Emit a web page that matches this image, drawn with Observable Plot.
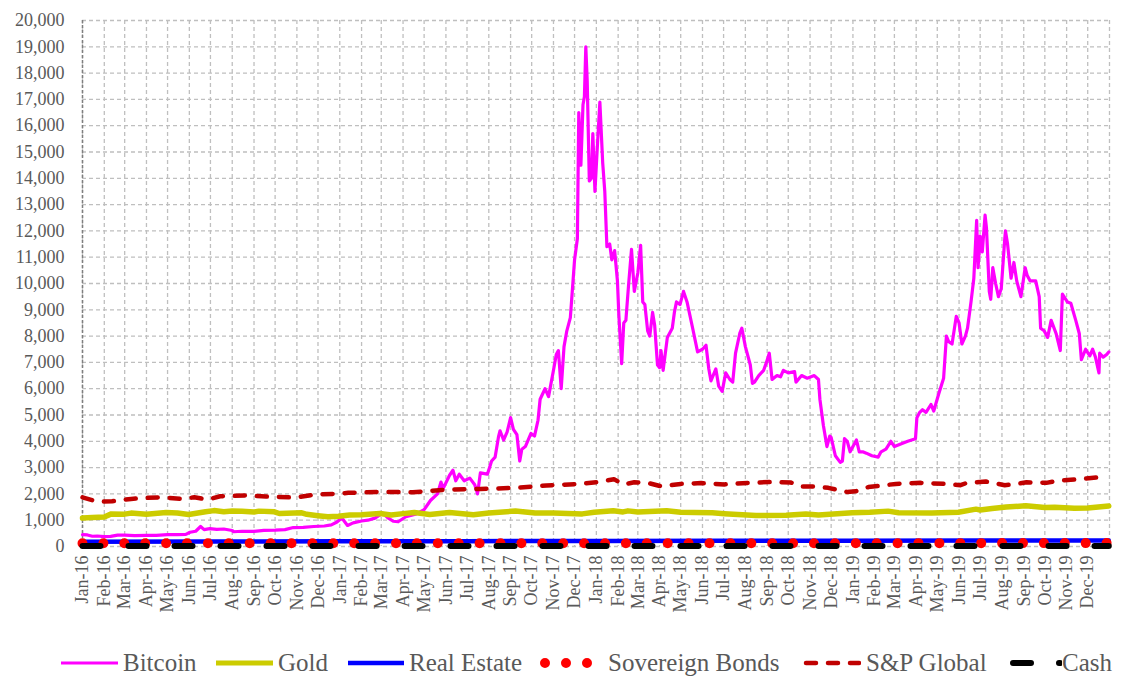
<!DOCTYPE html>
<html>
<head>
<meta charset="utf-8">
<script src="https://cdn.jsdelivr.net/npm/d3@7"></script>
<script src="https://cdn.jsdelivr.net/npm/@observablehq/plot@0.6"></script>
<style>
  html, body { margin: 0; padding: 0; background: #fff; }
  #wrap { width: 1129px; height: 678px; position: relative; overflow: hidden; }
  #legend { position: absolute; left: 0; top: 648px; width: 1129px; height: 30px;
    font-family: "Liberation Serif", "Times New Roman", "Liberation Sans", Arial, sans-serif; font-size: 25px; color: #595959; }
  .item { position: absolute; top: 0; height: 30px; display: flex; align-items: center; white-space: nowrap; }
</style>
</head>
<body>
<div id="wrap">
  <div id="chart"></div>
  <div id="legend"></div>
</div>
<script>
// ---------------- data ----------------
const seriesNames = ["Bitcoin", "Gold", "Real Estate", "Sovereign Bonds", "S&P Global", "Cash"];

const btcDates = [
 "2016-01-01","2016-01-08","2016-01-15","2016-01-22","2016-02-01","2016-02-10","2016-02-20","2016-03-01","2016-03-15","2016-04-01",
 "2016-04-15","2016-05-01","2016-05-15","2016-05-27","2016-06-02","2016-06-10","2016-06-17","2016-06-22","2016-06-30","2016-07-10",
 "2016-07-20","2016-08-01","2016-08-03","2016-08-15","2016-09-01","2016-09-15","2016-10-01","2016-10-15","2016-10-27","2016-11-10",
 "2016-11-25","2016-12-10","2016-12-20","2016-12-28",
 "2017-01-04","2017-01-12","2017-01-20","2017-02-01","2017-02-10","2017-02-20","2017-03-03","2017-03-10","2017-03-18","2017-03-25",
 "2017-04-05","2017-04-20","2017-05-01","2017-05-10","2017-05-20","2017-05-25","2017-05-28","2017-06-06","2017-06-11","2017-06-15",
 "2017-06-20","2017-06-27","2017-07-05","2017-07-12","2017-07-16","2017-07-20","2017-07-30","2017-08-05","2017-08-10","2017-08-15",
 "2017-08-17","2017-08-22","2017-08-27","2017-09-01","2017-09-05","2017-09-10","2017-09-14","2017-09-17","2017-09-22","2017-09-30",
 "2017-10-05","2017-10-10","2017-10-13","2017-10-20","2017-10-25","2017-11-01","2017-11-05","2017-11-08","2017-11-12","2017-11-16",
 "2017-11-20","2017-11-25","2017-11-28","2017-12-01","2017-12-05","2017-12-07","2017-12-10","2017-12-13","2017-12-15","2017-12-17",
 "2017-12-19","2017-12-22","2017-12-25","2017-12-27","2017-12-30",
 "2018-01-02","2018-01-06","2018-01-10","2018-01-13","2018-01-16","2018-01-20","2018-01-23","2018-01-27","2018-01-31","2018-02-02",
 "2018-02-06","2018-02-09","2018-02-12","2018-02-16","2018-02-20","2018-02-24","2018-03-01","2018-03-05","2018-03-08","2018-03-11",
 "2018-03-15","2018-03-18","2018-03-22","2018-03-25","2018-03-29","2018-04-01","2018-04-03","2018-04-06","2018-04-12","2018-04-19",
 "2018-04-22","2018-04-25","2018-04-30","2018-05-05","2018-05-10","2018-05-18","2018-05-25","2018-06-01","2018-06-06","2018-06-10",
 "2018-06-13","2018-06-20","2018-06-24","2018-06-29","2018-07-04","2018-07-10","2018-07-14","2018-07-18","2018-07-24","2018-07-27",
 "2018-08-01","2018-08-08","2018-08-11","2018-08-14","2018-08-20","2018-08-27","2018-08-31","2018-09-04","2018-09-08","2018-09-15",
 "2018-09-20","2018-09-24","2018-10-01","2018-10-10","2018-10-12","2018-10-20","2018-10-28","2018-11-07","2018-11-13","2018-11-15",
 "2018-11-20","2018-11-25","2018-11-29","2018-12-01","2018-12-07","2018-12-14","2018-12-17","2018-12-20","2018-12-24","2018-12-28",
 "2019-01-06","2019-01-10","2019-01-15","2019-01-20","2019-01-28","2019-02-06","2019-02-10","2019-02-17","2019-02-24","2019-03-01",
 "2019-03-10","2019-03-20","2019-03-31","2019-04-02","2019-04-06","2019-04-10","2019-04-15","2019-04-22","2019-04-26","2019-05-03",
 "2019-05-10","2019-05-14","2019-05-17","2019-05-22","2019-05-28","2019-06-01","2019-06-05","2019-06-10","2019-06-13","2019-06-18",
 "2019-06-22","2019-06-26","2019-06-28","2019-07-01","2019-07-04","2019-07-08","2019-07-10","2019-07-14","2019-07-16","2019-07-19",
 "2019-07-23","2019-07-27","2019-07-31","2019-08-05","2019-08-06","2019-08-09","2019-08-14","2019-08-18","2019-08-22","2019-08-28",
 "2019-09-03","2019-09-06","2019-09-10","2019-09-18","2019-09-23","2019-09-25","2019-09-30","2019-10-05","2019-10-10","2019-10-17",
 "2019-10-23","2019-10-26","2019-11-02","2019-11-07","2019-11-14","2019-11-19","2019-11-22","2019-11-28","2019-12-04","2019-12-08",
 "2019-12-12","2019-12-17","2019-12-18","2019-12-23","2019-12-28","2019-12-31"
];
const btcValues = [
 450,440,390,400,375,385,430,430,415,420,
 425,450,455,460,540,580,760,640,680,650,
 665,610,560,580,575,610,620,640,720,730,
 760,780,820,930,
 1080,800,900,970,1000,1080,1270,1100,960,940,
 1130,1240,1400,1750,2000,2450,2200,2700,2900,2500,
 2750,2500,2600,2350,2000,2800,2750,3250,3400,4200,
 4400,4050,4350,4900,4450,4250,3250,3700,3800,4300,
 4200,4800,5600,6000,5700,6700,7300,7450,6000,7600,
 8200,8700,9800,10900,11700,16500,14500,16800,17100,19000,
 17700,13900,14000,15700,13500,
 15000,16900,14600,13500,11400,11500,10900,11250,10100,8800,
 6950,8500,8600,10000,11300,9700,10400,11450,9300,9200,
 8200,8000,8900,8400,6900,6800,7450,6700,7950,8300,
 8900,9300,9200,9700,9300,8300,7400,7500,7650,6750,
 6300,6750,6100,5900,6600,6350,6250,7350,8100,8300,
 7600,6900,6200,6250,6500,6700,7000,7350,6350,6500,
 6450,6700,6600,6650,6250,6500,6400,6500,6350,5600,
 4600,3800,4200,4150,3450,3200,3250,4100,4000,3600,
 4050,3600,3600,3550,3450,3400,3600,3700,4000,3800,
 3900,4000,4100,4900,5100,5200,5100,5400,5150,5800,
 6400,8000,7800,7700,8750,8500,7700,8000,8300,9300,
 10200,12400,10600,11800,11200,12600,12100,9700,9400,10600,
 10000,9500,9800,11700,12000,11500,10200,10800,10100,9500,
 10600,10300,10100,10100,9500,8300,8200,7950,8600,8100,
 7450,9600,9300,9250,8600,8100,7100,7500,7250,7500,
 7200,6600,7350,7200,7300,7400
];

const goldDates = [
 "2016-01-01","2016-01-15","2016-02-01","2016-02-11","2016-03-01","2016-03-10","2016-04-01","2016-04-29","2016-05-15","2016-05-31",
 "2016-06-24","2016-07-06","2016-07-20","2016-08-01","2016-08-15","2016-09-01","2016-09-08","2016-09-30","2016-10-07","2016-11-08",
 "2016-11-15","2016-12-01","2016-12-15","2016-12-30",
 "2017-01-15","2017-02-01","2017-02-27","2017-03-15","2017-04-01","2017-04-17","2017-05-09","2017-06-06","2017-07-10","2017-08-01",
 "2017-09-08","2017-10-06","2017-11-01","2017-12-12","2017-12-29",
 "2018-01-25","2018-02-08","2018-02-15","2018-03-01","2018-04-11","2018-05-01","2018-05-21","2018-06-15","2018-07-02","2018-08-16",
 "2018-09-28","2018-10-26","2018-11-13","2018-12-31",
 "2019-01-25","2019-02-20","2019-03-07","2019-04-23","2019-05-31","2019-06-25","2019-07-01","2019-07-18","2019-08-07","2019-09-04",
 "2019-10-01","2019-10-15","2019-11-12","2019-12-01","2019-12-31"
];
const goldValues = [
 1080,1100,1125,1240,1230,1270,1225,1290,1275,1215,
 1320,1365,1320,1350,1340,1310,1345,1320,1255,1280,
 1225,1170,1130,1150,
 1200,1210,1255,1200,1250,1290,1220,1295,1210,1270,
 1350,1270,1275,1240,1300,
 1360,1315,1355,1315,1360,1305,1290,1280,1245,1175,
 1190,1235,1200,1280,
 1300,1345,1285,1270,1305,1420,1390,1445,1500,1550,
 1480,1490,1450,1465,1540
];

const reDates = ["2016-01-01","2016-07-01","2017-01-01","2017-07-01","2018-01-01","2018-07-01","2019-01-01","2019-07-01","2019-12-31"];
const reValues = [185, 192, 198, 204, 210, 218, 220, 225, 228];

const bondDates = ["2016-01-01","2017-01-01","2018-01-01","2019-01-01","2019-12-31"];
const bondValues = [125, 122, 124, 126, 130];

const spDates = [
 "2016-01-01","2016-01-15","2016-01-25","2016-02-12","2016-03-10","2016-04-01","2016-04-25","2016-05-20","2016-06-08","2016-06-27",
 "2016-07-15","2016-08-20","2016-09-18","2016-10-30","2016-11-26","2016-12-31",
 "2017-01-13","2017-03-01","2017-04-15","2017-06-01","2017-07-20","2017-09-10","2017-10-22","2017-12-08",
 "2018-01-02","2018-01-26","2018-02-08","2018-02-24","2018-03-15","2018-04-03","2018-05-01","2018-05-30","2018-07-02","2018-08-05",
 "2018-09-06","2018-10-05","2018-10-20","2018-11-04","2018-11-27","2018-12-24",
 "2019-01-05","2019-01-23","2019-03-03","2019-04-07","2019-05-14","2019-06-03","2019-06-11","2019-07-09","2019-08-05","2019-08-17",
 "2019-09-05","2019-10-03","2019-10-23","2019-11-20","2019-12-27"
];
const spValues = [
 1870,1760,1700,1720,1810,1850,1870,1810,1870,1780,
 1910,1940,1900,1860,1970,2010,
 2040,2080,2060,2160,2190,2230,2320,2380,
 2450,2560,2360,2440,2420,2290,2380,2410,2360,2420,
 2450,2430,2280,2280,2230,2070,
 2100,2260,2380,2420,2380,2330,2410,2470,2330,2360,
 2440,2420,2510,2560,2660
];

const cashDates = ["2016-01-01","2019-12-31"];
const cashValues = [20, 20];

const yTicks = d3.range(0, 20001, 1000);
const monthTickLabels = d3.utcMonths(new Date("2016-01-01"), new Date("2020-01-01"));
const gridDates = d3.utcMonths(new Date("2016-01-01"), new Date("2020-01-02"));

// ---------------- build ----------------
const toRows = (dates, values) => dates.map((d, i) => ({date: new Date(d), value: values[i]}));
const btc = toRows(btcDates, btcValues);
const gold = toRows(goldDates, goldValues);
const re = toRows(reDates, reValues);
const bonds = toRows(bondDates, bondValues);
const sp = toRows(spDates, spValues);
const cash = toRows(cashDates, cashValues);

const styles = {
  "Bitcoin": {stroke: "#ff00ff", strokeWidth: 3.2},
  "Gold": {stroke: "#cccc00", strokeWidth: 5.5},
  "Real Estate": {stroke: "#0000ff", strokeWidth: 4.5},
  "Sovereign Bonds": {stroke: "#ff0000", strokeWidth: 10, strokeDasharray: "0,20.9", strokeLinecap: "round"},
  "S&P Global": {stroke: "#c00000", strokeWidth: 4.5, strokeDasharray: "10,12", strokeLinecap: "round"},
  "Cash": {stroke: "#000000", strokeWidth: 6, strokeDasharray: "18,28", strokeLinecap: "round"}
};

const gridStyle = {stroke: "#bfbfbf", strokeOpacity: 1, strokeDasharray: "4,3", strokeWidth: 1.3};
const font = '"Liberation Serif", "Times New Roman", "Liberation Sans", Arial, sans-serif';

const chart = Plot.plot({
  width: 1129,
  height: 640,
  marginLeft: 82,
  marginRight: 20,
  marginTop: 20,
  marginBottom: 94,
  style: {fontFamily: font, fontSize: "18px", color: "#595959", background: "#fff"},
  x: {type: "utc", domain: [new Date("2016-01-01"), new Date("2020-01-01")]},
  y: {domain: [0, 20000]},
  marks: [
    Plot.gridY({ticks: yTicks, ...gridStyle}),
    Plot.gridX({ticks: gridDates, ...gridStyle}),
    Plot.ruleX([new Date("2016-01-01")], {stroke: "#7f7f7f", strokeDasharray: "3,2", strokeWidth: 1.5}),
    Plot.axisY({ticks: yTicks, tickSize: 0, tickPadding: 18, tickFormat: d3.format(","), label: null, fill: "#595959", fontSize: 18}),
    Plot.axisX({ticks: monthTickLabels, tickSize: 0, tickPadding: 9, tickRotate: -90, tickFormat: d3.utcFormat("%b-%y"), label: null, fill: "#595959", fontSize: 18}),
    Plot.line(btc, {x: "date", y: "value", ...styles["Bitcoin"]}),
    Plot.line(gold, {x: "date", y: "value", ...styles["Gold"]}),
    Plot.line(re, {x: "date", y: "value", ...styles["Real Estate"]}),
    Plot.line(bonds, {x: "date", y: "value", ...styles["Sovereign Bonds"]}),
    Plot.line(sp, {x: "date", y: "value", ...styles["S&P Global"]}),
    Plot.line(cash, {x: "date", y: "value", ...styles["Cash"]})
  ]
});
document.getElementById("chart").appendChild(chart);

// legend (item start positions and swatch lengths)
const legendLeft = [61, 216, 348, 540, 803, 1010];
const swatchW = [57, 57, 56, 52, 58, 52];
const legend = document.getElementById("legend");
seriesNames.forEach((name, i) => {
  const s = styles[name];
  const w = swatchW[i];
  const item = document.createElement("div");
  item.className = "item";
  item.style.left = legendLeft[i] + "px";
  let inner;
  if (name === "Sovereign Bonds") {
    inner = `<line x1="5" y1="8" x2="${w - 4}" y2="8" stroke="${s.stroke}" stroke-width="10" stroke-dasharray="0,21" stroke-linecap="round"/>`;
  } else if (s.strokeDasharray) {
    inner = `<line x1="3" y1="8" x2="${w - 2}" y2="8" stroke="${s.stroke}" stroke-width="${s.strokeWidth}" stroke-dasharray="${s.strokeDasharray}" stroke-linecap="round"/>`;
  } else {
    inner = `<line x1="0" y1="8" x2="${w}" y2="8" stroke="${s.stroke}" stroke-width="${Math.min(s.strokeWidth, 5)}"/>`;
  }
  const gap = name === "Sovereign Bonds" ? 16 : (name === "Cash" ? 0 : 5);
  item.innerHTML = `<svg width="${w}" height="16" viewBox="0 0 ${w} 16" style="margin-right:${gap}px">${inner}</svg><span>${name.replace("&", "&amp;")}</span>`;
  legend.appendChild(item);
});
</script>
</body>
</html>
